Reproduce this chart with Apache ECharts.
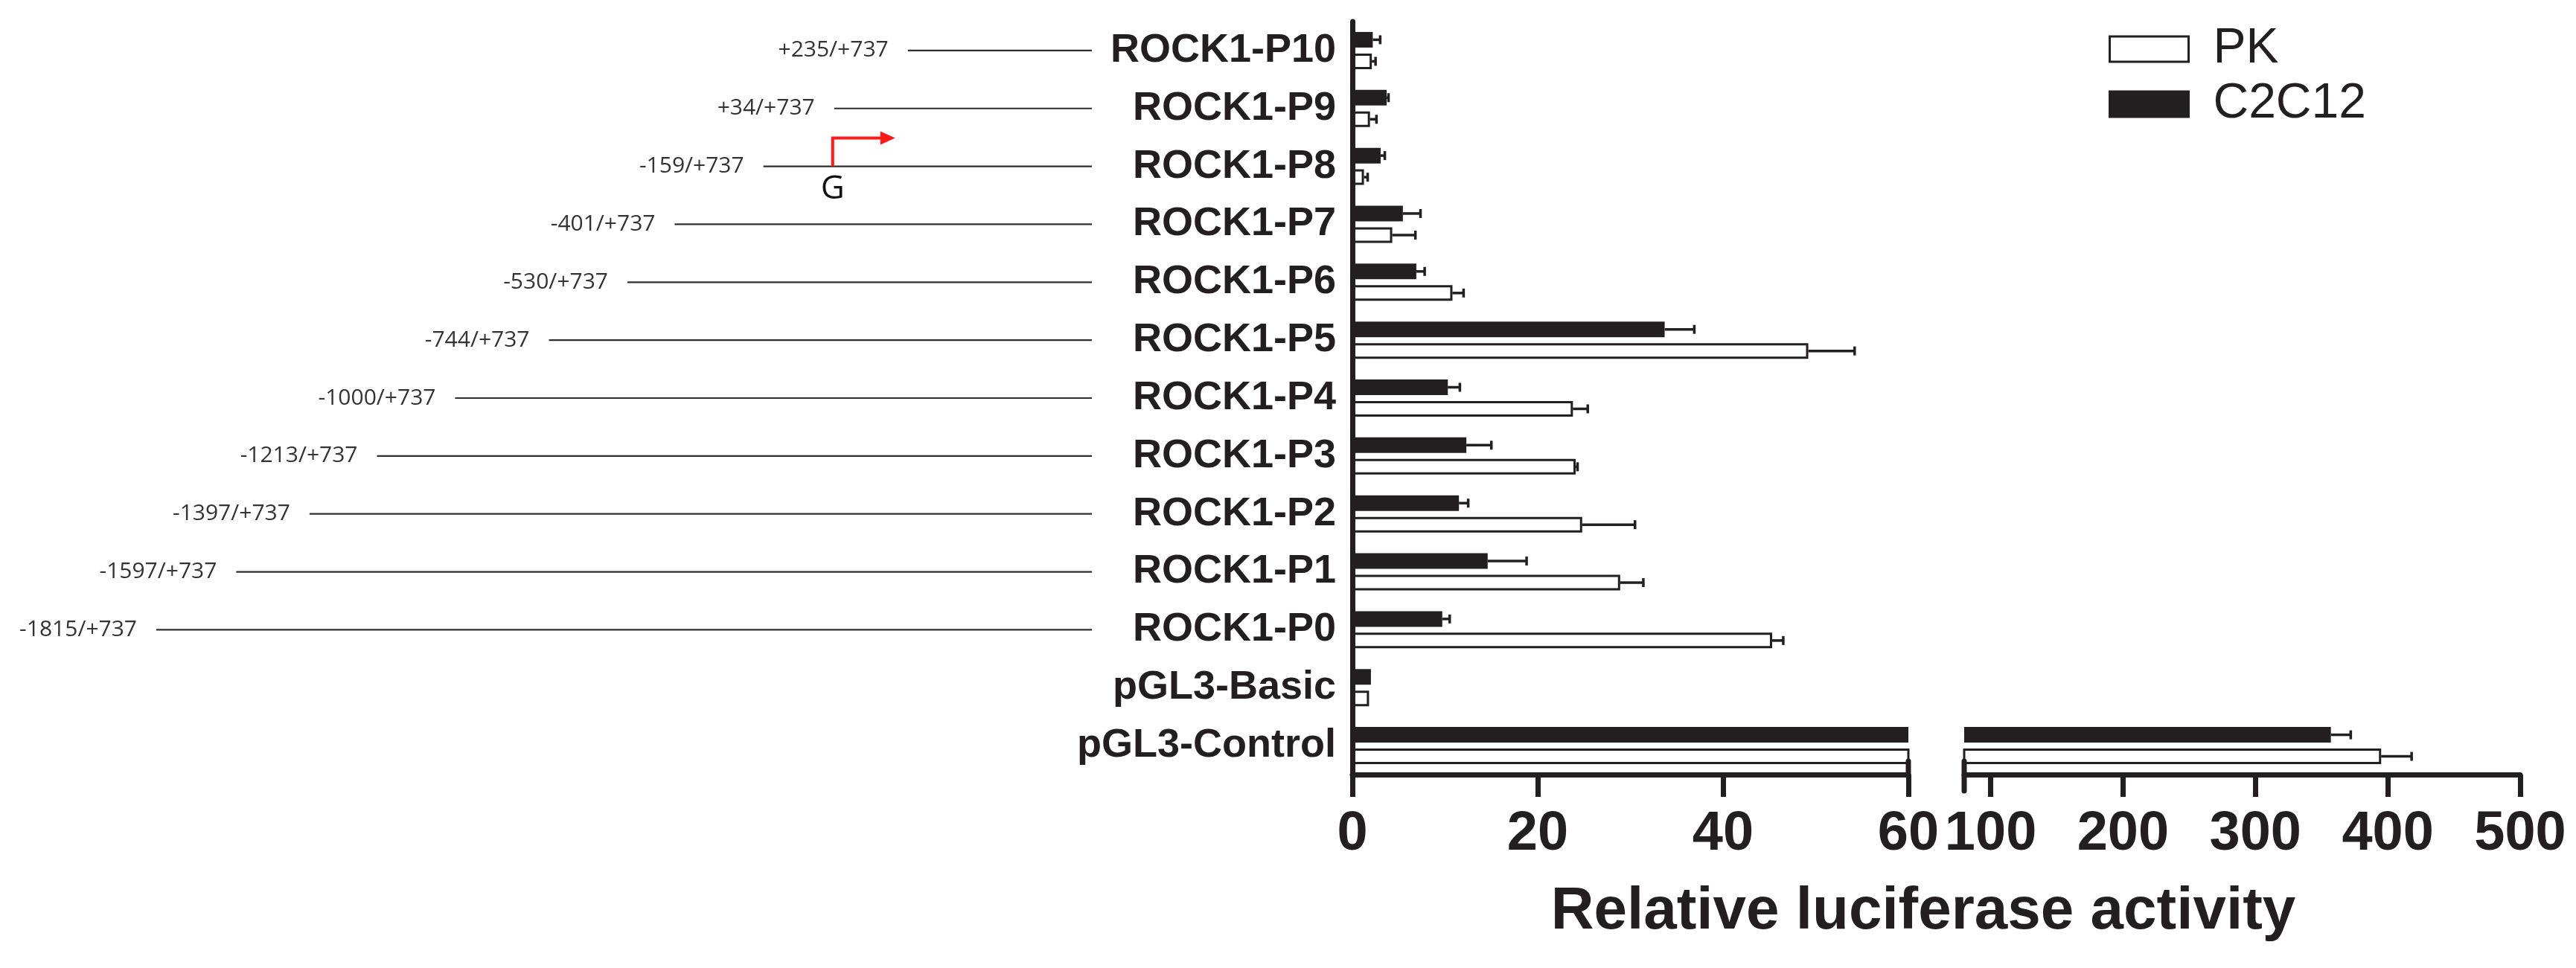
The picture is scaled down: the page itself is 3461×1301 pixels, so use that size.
<!DOCTYPE html>
<html>
<head>
<meta charset="utf-8">
<title>ROCK1 promoter luciferase activity</title>
<script src="https://cdn.jsdelivr.net/npm/echarts@6/dist/echarts.min.js"></script>
<style>
  html, body {margin: 0; padding: 0; background: #fff;}
  #chart {width: 3461px; height: 1301px;}
</style>
</head>
<body>
<div id="chart"></div>
<script>
// 构建体（自上而下）
const categories = ['ROCK1-P10', 'ROCK1-P9', 'ROCK1-P8', 'ROCK1-P7', 'ROCK1-P6', 'ROCK1-P5',
  'ROCK1-P4', 'ROCK1-P3', 'ROCK1-P2', 'ROCK1-P1', 'ROCK1-P0', 'pGL3-Basic', 'pGL3-Control'];
// 相对荧光素酶活性均值及误差（只画正向）
const pkValues = [2.1, 1.9, 1.25, 4.3, 10.8, 49.2, 23.8, 24.1, 24.8, 28.9, 45.3, 1.8, 395];
const pkErrors = [0.4, 0.7, 0.4, 2.5, 1.2, 5.0, 1.6, 0.2, 5.7, 2.5, 1.2, 0, 23];
const c2c12Values = [2.2, 3.7, 3.05, 5.45, 6.9, 33.7, 10.3, 12.3, 11.5, 14.6, 9.7, 2.0, 357];
const c2c12Errors = [0.8, 0.2, 0.45, 1.9, 0.9, 3.2, 1.3, 2.7, 1.0, 4.2, 0.8, 0, 15];
// 启动子片段起点（相对转录起始位点），终点都是 +737
const fragmentStarts = [235, 34, -159, -401, -530, -744, -1000, -1213, -1397, -1597, -1815];
const fragmentEnd = 737;
const tssPosition = 30;
// 断轴：左段 0-60，右段 80-500
const lowRange = [0, 60];
const highRange = [80, 500];
const highTicks = [100, 200, 300, 400, 500];

const ink = '#231f20';
const fragmentLabels = fragmentStarts.map((s) => (s > 0 ? '+' : '') + s + '/+' + fragmentEnd);

const gridTop = 29;
const gridHeight = 1012;

// 误差线：从柱端向右画一段，末端加竖帽
function errorBarSeries(values, errors, axisIndex, offset) {
  return {
    type: 'custom',
    xAxisIndex: axisIndex,
    yAxisIndex: axisIndex,
    clip: true,
    z: 3,
    encode: {x: 0, y: 1},
    data: values.map((v, i) => [v, i, v + errors[i]]),
    renderItem(params, api) {
      const start = api.coord([api.value(0), api.value(1)]);
      const end = api.coord([api.value(2), api.value(1)]);
      if (end[0] - start[0] < 1) return;
      const y = start[1] + offset;
      return {
        type: 'group',
        children: [
          {type: 'line', shape: {x1: start[0], y1: y, x2: end[0], y2: y}, style: {stroke: ink, lineWidth: 3.5}},
          {type: 'line', shape: {x1: end[0], y1: y - 6, x2: end[0], y2: y + 6}, style: {stroke: ink, lineWidth: 3.5}}
        ]
      };
    }
  };
}

// 断轴两端的竖短线
function breakCapSeries(value, axisIndex, above, below) {
  return {
    type: 'custom',
    xAxisIndex: axisIndex,
    yAxisIndex: axisIndex,
    encode: {x: 0, y: 1},
    z: 6,
    silent: true,
    data: [[value, categories.length - 1]],
    renderItem(params, api) {
      const p = api.coord([api.value(0), api.value(1)]);
      const bottom = params.coordSys.y + params.coordSys.height;
      return {
        type: 'line',
        shape: {x1: p[0], y1: bottom - above, x2: p[0], y2: bottom + below},
        style: {stroke: ink, lineWidth: 7, lineCap: 'round'}
      };
    }
  };
}

function barSeries(name, values, axisIndex) {
  const isPk = name === 'PK';
  return {
    name: name,
    type: 'bar',
    xAxisIndex: axisIndex,
    yAxisIndex: axisIndex,
    barWidth: 21,
    barGap: '38%',
    data: values,
    itemStyle: isPk ? {color: '#fff', borderColor: ink, borderWidth: 3} : {color: ink}
  };
}

const valueAxisBase = {
  type: 'value',
  splitLine: {show: false},
  axisLine: {show: true, lineStyle: {color: ink, width: 7}},
  axisTick: {show: true, length: 30, lineStyle: {color: ink, width: 7}},
  axisLabel: {color: ink, fontSize: 74, fontWeight: 'bold', fontFamily: 'Liberation Sans', margin: 44},
  z: 5
};

const chart = echarts.init(document.getElementById('chart'));
chart.setOption({
  animation: false,
  backgroundColor: '#fff',
  legend: {
    data: ['PK', 'C2C12'],
    orient: 'vertical',
    left: 2828,
    top: 28,
    itemWidth: 106,
    itemHeight: 34,
    itemGap: 8,
    icon: 'rect',
    selectedMode: false,
    itemStyle: {borderColor: ink, borderWidth: 3},
    textStyle: {fontSize: 66, fontFamily: 'Liberation Sans', color: ink, padding: [0, 0, 0, 28]}
  },
  grid: [
    {left: 1817, width: 747, top: gridTop, height: gridHeight},
    {left: 2639, width: 747, top: gridTop, height: gridHeight},
    {left: 210, width: 1257, top: gridTop, height: gridHeight}  // 左侧片段示意
  ],
  xAxis: [
    Object.assign({}, valueAxisBase, {gridIndex: 0, min: lowRange[0], max: lowRange[1], interval: 20}),
    Object.assign({}, valueAxisBase, {
      gridIndex: 1, min: highRange[0], max: highRange[1],
      axisTick: {show: true, length: 30, customValues: highTicks, lineStyle: {color: ink, width: 7}},
      axisLabel: Object.assign({}, valueAxisBase.axisLabel, {customValues: highTicks})
    }),
    {type: 'value', gridIndex: 2, min: fragmentStarts[fragmentStarts.length - 1], max: fragmentEnd, show: false}
  ],
  yAxis: [
    {
      type: 'category',
      gridIndex: 0,
      inverse: true,
      data: categories,
      z: 5,
      axisLine: {lineStyle: {color: ink, width: 7}},
      axisTick: {alignWithLabel: true, length: 18, lineStyle: {color: ink, width: 7}},
      axisLabel: {color: ink, fontSize: 54, fontWeight: 'bold', fontFamily: 'Liberation Sans', margin: 22}
    },
    {type: 'category', gridIndex: 1, inverse: true, data: categories, show: false},
    {type: 'category', gridIndex: 2, inverse: true, data: categories, show: false}
  ],
  graphic: [{
    type: 'text',
    x: 2584,
    y: 1226,
    style: {
      text: 'Relative luciferase activity',
      align: 'center',
      verticalAlign: 'middle',
      fontSize: 80,
      fontWeight: 'bold',
      fontFamily: 'Liberation Sans',
      fill: ink
    }
  }],
  series: [
    barSeries('C2C12', c2c12Values, 0),
    barSeries('PK', pkValues, 0),
    barSeries('C2C12', c2c12Values, 1),
    barSeries('PK', pkValues, 1),
    errorBarSeries(c2c12Values, c2c12Errors, 0, -14.5),
    errorBarSeries(pkValues, pkErrors, 0, 14.5),
    errorBarSeries(c2c12Values, c2c12Errors, 1, -14.5),
    errorBarSeries(pkValues, pkErrors, 1, 14.5),
    breakCapSeries(lowRange[1], 0, 18, 0),
    breakCapSeries(highRange[0], 1, 18, 22),
    {
      // 片段线及其坐标标注
      type: 'custom',
      xAxisIndex: 2,
      yAxisIndex: 2,
      encode: {x: 0, y: 1},
      data: fragmentStarts.map((s, i) => [s, i]),
      renderItem(params, api) {
        const idx = api.value(1);
        const p0 = api.coord([api.value(0), idx]);
        const p1 = api.coord([fragmentEnd, idx]);
        return {
          type: 'group',
          children: [
            {type: 'line', shape: {x1: p0[0], y1: p0[1], x2: p1[0], y2: p1[1]}, style: {stroke: '#2e2e2e', lineWidth: 2.2}},
            {
              type: 'text', x: p0[0] - 26, y: p0[1],
              style: {
                text: fragmentLabels[params.dataIndex], align: 'right', verticalAlign: 'middle',
                fontSize: 30, fontFamily: 'Open Sans', fill: '#333'
              }
            }
          ]
        };
      }
    },
    {
      // 转录起始位点箭头
      type: 'custom',
      xAxisIndex: 2,
      yAxisIndex: 2,
      encode: {x: 0, y: 1},
      z: 4,
      data: [[tssPosition, 2]],
      renderItem(params, api) {
        const p = api.coord([api.value(0), api.value(1)]);
        const red = '#ff1a1a';
        return {
          type: 'group',
          children: [
            {type: 'polyline', shape: {points: [[p[0], p[1]], [p[0], p[1] - 38], [p[0] + 66, p[1] - 38]]},
              style: {stroke: red, lineWidth: 4, fill: null}},
            {type: 'polygon', shape: {points: [[p[0] + 64, p[1] - 47], [p[0] + 84, p[1] - 38], [p[0] + 64, p[1] - 29]]},
              style: {fill: red}},
            {type: 'text', x: p[0], y: p[1] + 31,
              style: {text: 'G', align: 'center', verticalAlign: 'middle', fontSize: 44, fontFamily: 'Open Sans', fill: '#111'}}
          ]
        };
      }
    }
  ]
});
</script>
</body>
</html>
